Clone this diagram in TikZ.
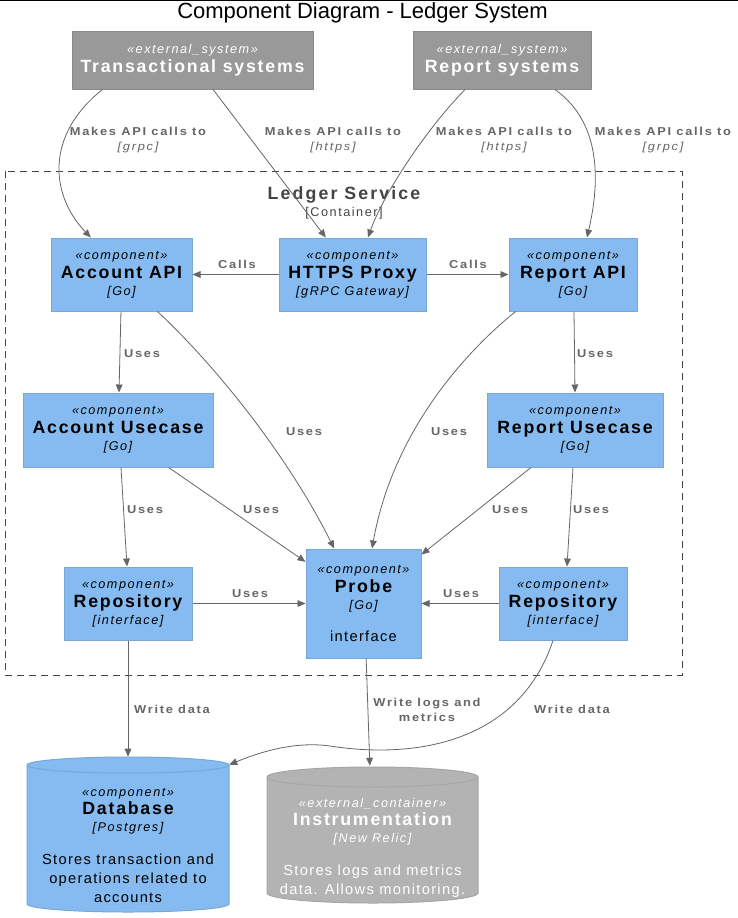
\documentclass[tikz,border=0pt]{standalone}
\usepackage{fontspec}
\setmainfont{Liberation Sans}
\newfontfamily\spf[LetterSpace=12]{Liberation Sans}
\newfontfamily\nmf[LetterSpace=10]{Liberation Sans}
\newfontfamily\dsf[LetterSpace=9]{Liberation Sans}
\newfontfamily\lbf[LetterSpace=15,FakeStretch=1.12]{Liberation Sans}
\usetikzlibrary{arrows.meta}
\definecolor{compfill}{HTML}{85BBF0}
\definecolor{compborder}{HTML}{78A8D8}
\definecolor{extfill}{HTML}{999999}
\definecolor{extborder}{HTML}{8A8A8A}
\definecolor{extcfill}{HTML}{B3B3B3}
\definecolor{extcborder}{HTML}{A6A6A6}
\definecolor{arr}{HTML}{666666}
\definecolor{bnd}{HTML}{444444}
\newcommand\stt[1]{{\spf\itshape\fontsize{9.5}{11}\selectfont «#1»}}
\newcommand\nmm[1]{{\nmf\bfseries\fontsize{13.3}{15}\selectfont #1}}
\newcommand\tcc[1]{{\spf\itshape\fontsize{9.5}{11}\selectfont [#1]}}
\newcommand\dsc[1]{{\dsf\fontsize{11}{13}\selectfont #1}}
\newcommand\lbl[1]{{\lbf\bfseries\fontsize{8.6}{11}\selectfont #1}}
\newcommand\lbi[1]{{\lbf\itshape\fontsize{8.6}{11}\selectfont [#1]}}
\tikzset{
  box/.style 2 args={minimum width=#1*0.75pt, minimum height=#2*0.75pt},
  comp/.style={rectangle, fill=compfill, draw=compborder, line width=0.75pt, inner sep=0pt, align=center, font=\fontsize{10}{14.2}\selectfont},
  extsys/.style={rectangle, fill=extfill, draw=extborder, line width=0.75pt, inner sep=0pt, align=center, text=white, font=\fontsize{10}{14.2}\selectfont},
  txt/.style={inner sep=0pt, align=center, font=\fontsize{10}{14.2}\selectfont},
  conn/.style={draw=arr, line width=0.6pt, -{Triangle[length=6pt,width=5pt]}},
  elabel/.style={inner sep=0pt, align=center, text=arr, font=\fontsize{9.5}{11.3}\selectfont},
}
\begin{document}
\begin{tikzpicture}[x=0.75pt,y=-0.75pt]
\useasboundingbox (0,0) rectangle (738,918);
\fill[white] (0,0) rectangle (738,918);
\draw[black, line width=0.9pt] (0,0.6) -- (738,0.6);
\node[inner sep=0pt, font=\fontsize{16.5}{18}\selectfont] (title) at (362.5,12.5) {Component Diagram - Ledger System};

% boundary
\draw[bnd, line width=0.75pt, dash pattern=on 5.5pt off 3.5pt] (5,171) rectangle (682,675);
\node[inner sep=0pt, text=bnd] (bt) at (344,195) {\spf\bfseries\fontsize{13.3}{15}\selectfont Ledger Service};
\node[inner sep=0pt, text=bnd] (bc) at (344,213) {\spf\fontsize{9.5}{11}\selectfont [Container]};

% external systems
\node[extsys, box={241}{58}] (ts) at (192.5,60) {\stt{external\_system}\\\nmm{Transactional systems}};
\node[extsys, box={178}{58}] (rs) at (502,60) {\stt{external\_system}\\\nmm{Report systems}};

% components
\node[comp, box={141}{73}] (aapi) at (121.5,274.5) {\stt{component}\\\nmm{Account API}\\[-1.5pt]\tcc{Go}};
\node[comp, box={147}{73}] (proxy) at (352.5,274.5) {\stt{component}\\\nmm{HTTPS Proxy}\\[-1.5pt]\tcc{gRPC Gateway}};
\node[comp, box={128}{73}] (rapi) at (573,274.5) {\stt{component}\\\nmm{Report API}\\[-1.5pt]\tcc{Go}};
\node[comp, box={190}{74}] (auc) at (118,430) {\stt{component}\\\nmm{Account Usecase}\\[-1.5pt]\tcc{Go}};
\node[comp, box={176}{74}] (ruc) at (575,430) {\stt{component}\\\nmm{Report Usecase}\\[-1.5pt]\tcc{Go}};
\node[comp, box={128}{73}] (repl) at (128,603.5) {\stt{component}\\\nmm{Repository}\\[-1.5pt]\tcc{interface}};
\node[comp, box={115}{109}] (probe) at (363.5,603.5) {\stt{component}\\\nmm{Probe}\\[-1.5pt]\tcc{Go}\\[9.5pt]\dsc{interface}};
\node[comp, box={128}{73}] (repr) at (563,603.5) {\stt{component}\\\nmm{Repository}\\[-1.5pt]\tcc{interface}};

% database cylinder
\node[inner sep=0pt, box={202}{155}] (db) at (128,834.5) {};
\fill[compfill] (27,765) -- (27,904) arc[start angle=180, end angle=0, x radius=101, y radius=8] -- (229,765) arc[start angle=0, end angle=-180, x radius=101, y radius=8] -- cycle;
\draw[compborder, line width=0.75pt] (27,765) -- (27,904) arc[start angle=180, end angle=0, x radius=101, y radius=8] -- (229,765) arc[start angle=0, end angle=-180, x radius=101, y radius=8] -- cycle;
\draw[compborder, line width=0.75pt] (27,765) arc[start angle=180, end angle=0, x radius=101, y radius=8];
\node[txt] (dbt) at (128,845) {\stt{component}\\\nmm{Database}\\[-1.5pt]\tcc{Postgres}\\[10pt]\dsc{Stores transaction and}\\[0pt]\dsc{operations related to}\\[0pt]\dsc{accounts}};

% instrumentation cylinder
\node[inner sep=0pt, box={211}{137}] (ins) at (372.5,834.5) {};
\fill[extcfill] (267,777) -- (267,893) arc[start angle=180, end angle=0, x radius=105.5, y radius=10] -- (478,777) arc[start angle=0, end angle=-180, x radius=105.5, y radius=10] -- cycle;
\draw[extcborder, line width=0.75pt] (267,777) -- (267,893) arc[start angle=180, end angle=0, x radius=105.5, y radius=10] -- (478,777) arc[start angle=0, end angle=-180, x radius=105.5, y radius=10] -- cycle;
\draw[extcborder, line width=0.75pt] (267,777) arc[start angle=180, end angle=0, x radius=105.5, y radius=10];
\node[txt, text=white] (inst) at (372.5,847.5) {\stt{external\_container}\\\nmm{Instrumentation}\\[-1.5pt]\tcc{New Relic}\\[10pt]\dsc{Stores logs and metrics}\\[0pt]\dsc{data. Allows monitoring.}};

% connectors
\draw[conn] ([xshift=-67.5pt]ts.south) .. controls (45,135) and (50,195) .. ([xshift=-23pt]aapi.north);
\node[elabel] (l1) at (138,140) {\lbl{Makes API calls to}\\\lbi{grpc}};
\draw[conn] ([xshift=15.4pt]ts.south) -- ([xshift=-20pt]proxy.north);
\node[elabel] (l2) at (333,140) {\lbl{Makes API calls to}\\\lbi{https}};
\draw[conn] ([xshift=-27.7pt]rs.south) .. controls (430,125) and (385,190) .. ([xshift=11.6pt]proxy.north);
\node[elabel] (l3) at (504,140) {\lbl{Makes API calls to}\\\lbi{https}};
\draw[conn] ([xshift=39.7pt]rs.south) .. controls (605,125) and (598,190) .. ([xshift=10.5pt]rapi.north);
\node[elabel] (l4) at (663,140) {\lbl{Makes API calls to}\\\lbi{grpc}};

\draw[conn] (proxy.west) -- (aapi.east);
\node[elabel] (l5) at (237,264.5) {\lbl{Calls}};
\draw[conn] (proxy.east) -- (rapi.east -| rapi.west);
\node[elabel] (l6) at (468,264.5) {\lbl{Calls}};

\draw[conn] ([xshift=-0.4pt]aapi.south) -- ([xshift=0.75pt]auc.north);
\node[elabel] (l7) at (142,353.5) {\lbl{Uses}};
\draw[conn] ([xshift=27pt]aapi.south) .. controls (220,370) and (290,460) .. ([xshift=-22pt]probe.north);
\node[elabel] (l8) at (304,431.5) {\lbl{Uses}};
\draw[conn] ([xshift=0.75pt]rapi.south) -- (ruc.north);
\node[elabel] (l9) at (595,353.5) {\lbl{Uses}};
\draw[conn] ([xshift=-43pt]rapi.south) .. controls (480,340) and (395,420) .. ([xshift=6.4pt]probe.north);
\node[elabel] (l10) at (449,431.5) {\lbl{Uses}};

\draw[conn] ([xshift=2.25pt]auc.south) -- ([xshift=-0.75pt]repl.north);
\node[elabel] (l11) at (145,509.5) {\lbl{Uses}};
\draw[conn] ([xshift=38pt]auc.south) -- ([yshift=-10pt]probe.north west);
\node[elabel] (l12) at (261,509.5) {\lbl{Uses}};
\draw[conn] ([xshift=-33pt]ruc.south) -- ([yshift=-4.5pt]probe.north east);
\node[elabel] (l13) at (510,509.5) {\lbl{Uses}};
\draw[conn] ([xshift=-1.5pt]ruc.south) -- ([xshift=3pt]repr.north);
\node[elabel] (l14) at (591,509.5) {\lbl{Uses}};

\draw[conn] (repl.east) -- (probe.west);
\node[elabel] (l15) at (250,593.5) {\lbl{Uses}};
\draw[conn] (repr.west) -- (probe.east);
\node[elabel] (l16) at (461,593.5) {\lbl{Uses}};

\draw[conn] (repl.south) -- (db.north);
\node[elabel] (l17) at (172,709.5) {\lbl{Write data}};
\draw[conn] ([xshift=2pt]probe.south) -- ([xshift=-2pt]ins.north);
\node[elabel] (l18) at (427,710) {\lbl{Write logs and}\\\lbl{metrics}};
\draw[conn] ([xshift=-7.5pt]repr.south) .. controls (520,740) and (420,760) .. (330,746) .. controls (295,741) and (260,752) .. ([yshift=-6pt]db.north east);
\node[elabel] (l19) at (572,709.5) {\lbl{Write data}};
\end{tikzpicture}
\end{document}
